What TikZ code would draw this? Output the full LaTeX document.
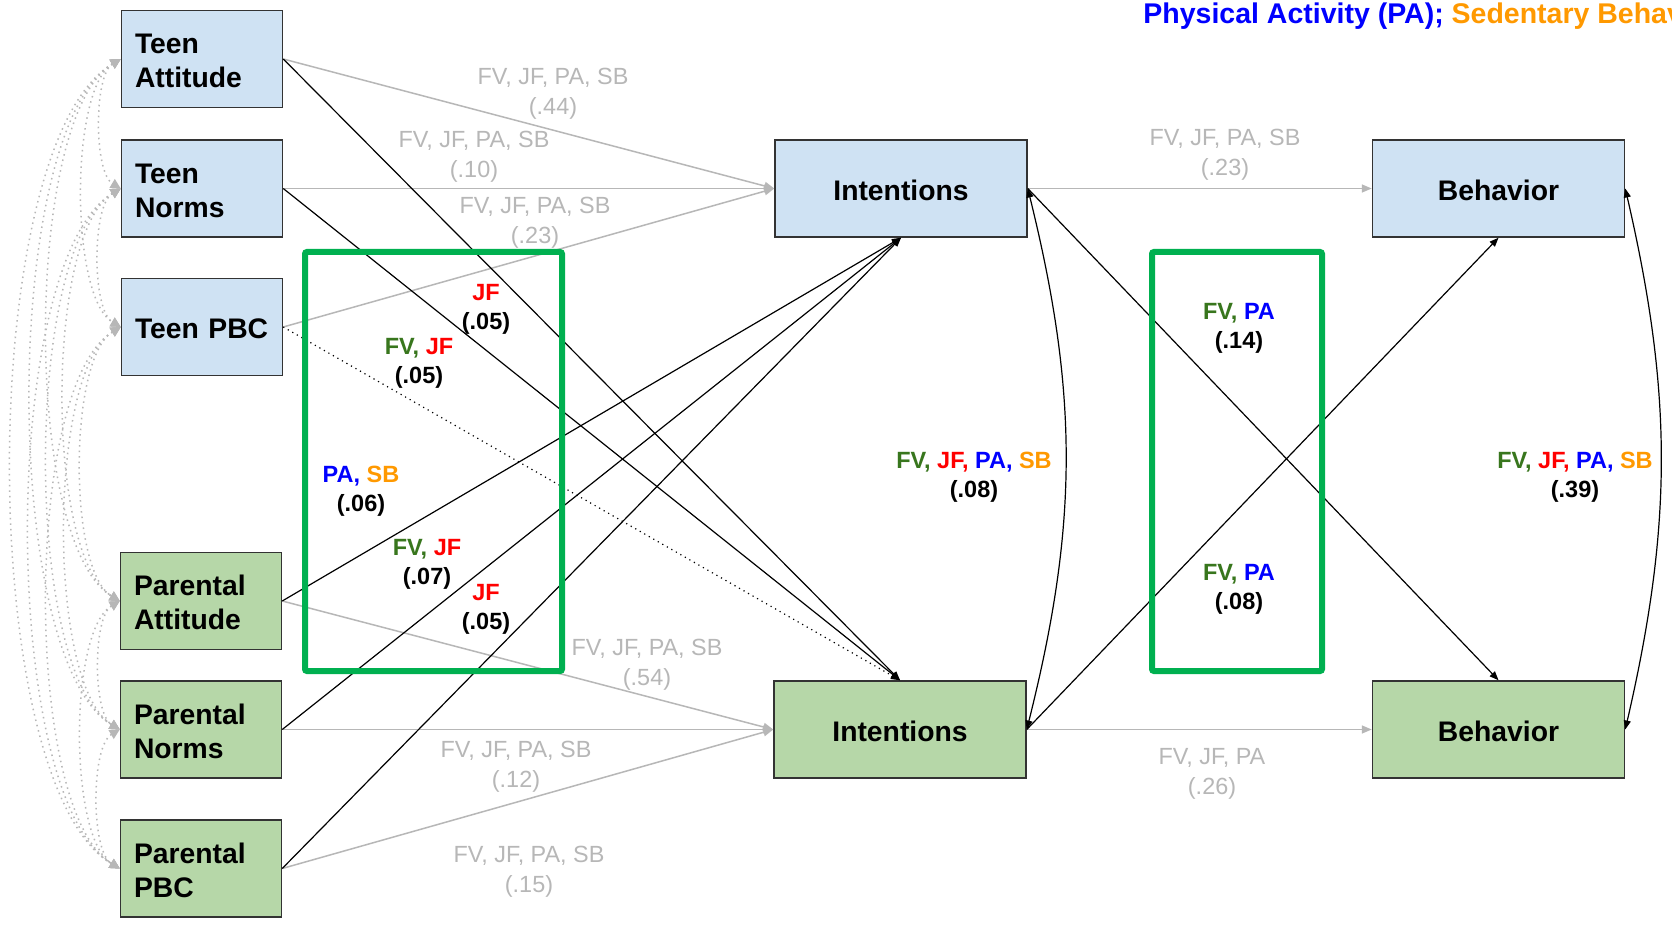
\documentclass[tikz,border=0pt]{standalone}
\usepackage{fontspec}
\setmainfont{Liberation Sans}
\usetikzlibrary{arrows.meta}
\definecolor{lblue}{HTML}{CFE2F3}
\definecolor{lgreen}{HTML}{B6D7A8}
\definecolor{frame}{HTML}{00B050}
\definecolor{lgrey}{HTML}{B7B7B7}
\definecolor{cFV}{HTML}{38761D}
\definecolor{cJF}{HTML}{FF0000}
\definecolor{cPA}{HTML}{0000FF}
\definecolor{cSB}{HTML}{FF9900}
\newcommand{\FV}{\textcolor{cFV}{FV,}}
\newcommand{\JFc}{\textcolor{cJF}{JF,}}
\newcommand{\JFe}{\textcolor{cJF}{JF}}
\newcommand{\PAc}{\textcolor{cPA}{PA,}}
\newcommand{\PAe}{\textcolor{cPA}{PA}}
\newcommand{\SBe}{\textcolor{cSB}{SB}}
\newcommand{\lup}{\rule{0pt}{12.1pt}}
\newcommand{\mup}{\rule[-3pt]{0pt}{18.1pt}}
\begin{document}
\begin{tikzpicture}[x=0.5pt,y=-0.5pt,
  varbox/.style={draw=black!80, line width=0.75pt, minimum height=48.5pt, inner ysep=2pt,
    font=\fontsize{14.15}{17}\selectfont\bfseries},
  leftvar/.style={varbox, text width=67pt, inner xsep=6.75pt, align=left},
  midvar/.style={varbox, minimum width=126pt, align=center},
  teen/.style={fill=lblue},
  pnode/.style={fill=lgreen},
  glab/.style={text=lgrey, font=\fontsize{11.7}{14.8}\selectfont, align=center, inner sep=0pt},
  clab/.style={font=\fontsize{11.75}{14.6}\selectfont\bfseries, align=center, inner sep=0pt},
  gpath/.style={draw=lgrey, line width=0.75pt, -{Triangle[length=5pt,width=4pt]}},
  bpath/.style={draw=black, line width=0.6pt, -{Triangle[length=4.5pt,width=3.5pt]}},
  bcov/.style={draw=black, line width=0.6pt, {Triangle[length=4.5pt,width=3.5pt]}-{Triangle[length=4.5pt,width=3.5pt]}},
  cov/.style={draw=lgrey, line width=0.75pt, dotted, {Triangle[length=5pt,width=5pt]}-{Triangle[length=5pt,width=5pt]}},
  frm/.style={draw=frame, line width=3pt, rounded corners=1pt}
]
\fill[white] (0,0) rectangle (1672,925);
\useasboundingbox (0,0) rectangle (1672,925);

% variables
\node[leftvar,teen] (TA) at (202,59) {\lup Teen\\Attitude};
\node[leftvar,teen] (TN) at (202,188.5) {\lup Teen\\Norms};
\node[leftvar,teen] (TP) at (202,327) {\lup Teen PBC};
\node[leftvar,pnode] (PA) at (201,601) {\lup Parental\\Attitude};
\node[leftvar,pnode] (PN) at (201,729.5) {\lup Parental\\Norms};
\node[leftvar,pnode] (PP) at (201,868.5) {\lup Parental\\PBC};
\node[midvar,teen] (IT) at (901,188.5) {\mup Intentions};
\node[midvar,pnode] (IP) at (900,729.5) {\mup Intentions};
\node[midvar,teen] (BT) at (1498.5,188.5) {\mup Behavior};
\node[midvar,pnode] (BP) at (1498.5,729.5) {\mup Behavior};

% grey paths
\draw[gpath] (TA.east) -- (IT.west);
\draw[gpath] (TN.east) -- (IT.west);
\draw[gpath] (TP.east) -- (IT.west);
\draw[gpath] (PA.east) -- (IP.west);
\draw[gpath] (PN.east) -- (IP.west);
\draw[gpath] (PP.east) -- (IP.west);
\draw[gpath] (IT.east) -- (BT.west);
\draw[gpath] (IP.east) -- (BP.west);

% black cross paths
\draw[bpath] (TA.east) -- (IP.north);
\draw[bpath] (TN.east) -- (IP.north);
\draw[bpath, dotted] (TP.east) -- (IP.north);
\draw[bpath] (PA.east) -- (IT.south);
\draw[bpath] (PN.east) -- (IT.south);
\draw[bpath] (PP.east) -- (IT.south);
\draw[bpath] (IT.east) -- (BP.north);
\draw[bpath] (IP.east) -- (BT.south);

% residual covariances
\draw[bcov] (IT.east) to[bend left=14] (IP.east);
\draw[bcov] (BT.east) to[bend left=13] (BP.east);

% exogenous covariances
\foreach \a/\b/\k/\m in {TA/TN/27/16, TA/TP/51/30, TA/PA/97/58, TA/PN/119/71, TA/PP/145/86,
  TN/TP/29/17, TN/PA/75/45, TN/PN/97/58, TN/PP/121/72,
  TP/PA/52/31, TP/PN/73/44, TP/PP/97/58,
  PA/PN/27/16, PA/PP/51/30, PN/PP/29/17}
  \draw[cov] (\a.west) .. controls +(-\k,\m) and +(-\k,-\m) .. (\b.west);

% green frames
\draw[frm] (305,252) rectangle (562,671);
\draw[frm] (1152,252) rectangle (1322,671);

% grey labels
\node[glab] (g1) at (553,94) {FV, JF, PA, SB\\(.44)};
\node[glab] (g2) at (474,157) {FV, JF, PA, SB\\(.10)};
\node[glab] (g3) at (535,223) {FV, JF, PA, SB\\(.23)};
\node[glab] (g4) at (647,665) {FV, JF, PA, SB\\(.54)};
\node[glab] (g5) at (516,767) {FV, JF, PA, SB\\(.12)};
\node[glab] (g6) at (529,872) {FV, JF, PA, SB\\(.15)};
\node[glab] (g7) at (1225,155) {FV, JF, PA, SB\\(.23)};
\node[glab] (g8) at (1212,774) {FV, JF, PA\\(.26)};

% coloured labels
\node[clab] (c1) at (486,309) {\JFe\\(.05)};
\node[clab] (c2) at (419,363) {\FV{} \JFe\\(.05)};
\node[clab] (c3) at (361,491) {\PAc{} \SBe\\(.06)};
\node[clab] (c4) at (427,564) {\FV{} \JFe\\(.07)};
\node[clab] (c5) at (486,609) {\JFe\\(.05)};
\node[clab] (c6) at (974,477) {\FV{} \JFc{} \PAc{} \SBe\\(.08)};
\node[clab] (c7) at (1239,328) {\FV{} \PAe\\(.14)};
\node[clab] (c8) at (1239,589) {\FV{} \PAe\\(.08)};
\node[clab] (c9) at (1575,477) {\FV{} \JFc{} \PAc{} \SBe\\(.39)};

% legend (cut at the right edge, as in the reference)
\begin{scope}
\clip (0,0) rectangle (1672,925);
\node[anchor=base west, inner sep=0pt, font=\fontsize{14.25}{17}\selectfont\bfseries] (legend) at (1143,23.5)
  {\textcolor{cPA}{Physical Activity (PA);} \textcolor{cSB}{Sedentary Behavior (SB)}};
\end{scope}
\end{tikzpicture}
\end{document}
